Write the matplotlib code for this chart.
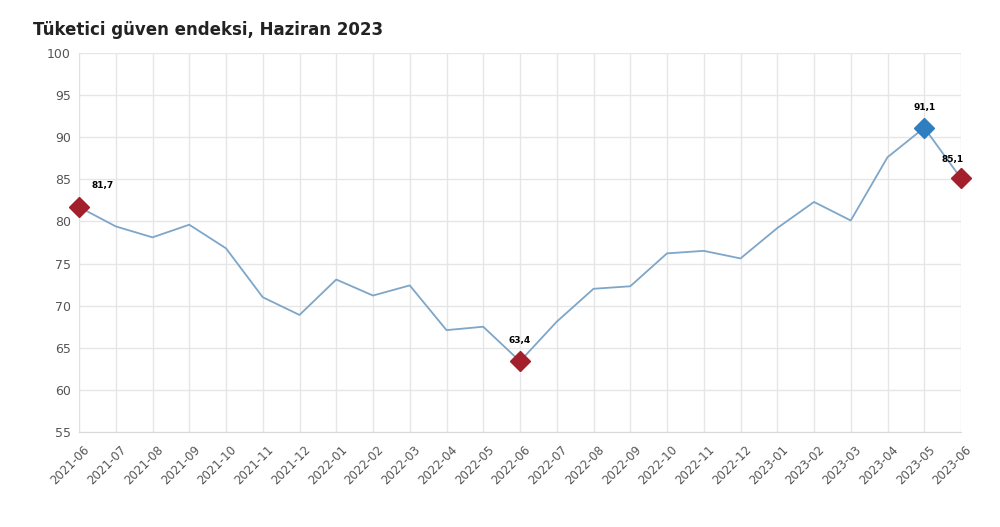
import matplotlib
matplotlib.use("Agg")
import matplotlib.pyplot as plt
from matplotlib.transforms import ScaledTranslation

# Tüketici güven endeksi, aylık
aylar = ["2021-06", "2021-07", "2021-08", "2021-09", "2021-10", "2021-11", "2021-12",
         "2022-01", "2022-02", "2022-03", "2022-04", "2022-05", "2022-06", "2022-07",
         "2022-08", "2022-09", "2022-10", "2022-11", "2022-12", "2023-01", "2023-02",
         "2023-03", "2023-04", "2023-05", "2023-06"]
endeks = [81.7, 79.4, 78.1, 79.6, 76.8, 71.0, 68.9, 73.1, 71.2, 72.4, 67.1, 67.5,
          63.4, 68.1, 72.0, 72.3, 76.2, 76.5, 75.6, 79.2, 82.3, 80.1, 87.6, 91.1, 85.1]

# işaretli noktalar: (indeks, etiket, renk)
kirmizi = "#a31f2c"
mavi = "#2f7fc0"
isaretler = [(0, "81,7", kirmizi), (12, "63,4", kirmizi), (23, "91,1", mavi), (24, "85,1", kirmizi)]

fig = plt.figure(figsize=(10, 5.27), dpi=100)
ax = fig.add_axes([0.079, 0.180, 0.882, 0.720])

x = list(range(len(aylar)))
ax.plot(x, endeks, color="#7ea6c8", linewidth=1.3, zorder=2)

for i, etiket, renk in isaretler:
    ax.plot(x[i], endeks[i], marker="D", markersize=10, color=renk,
            markeredgecolor=renk, zorder=3, clip_on=False)
    if i == 0:
        ax.annotate(etiket, (x[i], endeks[i]), xytext=(9, 14), textcoords="offset points",
                    fontsize=6.5, fontweight="bold", ha="left")
    elif i == 24:
        ax.annotate(etiket, (x[i], endeks[i]), xytext=(-6, 12), textcoords="offset points",
                    fontsize=6.5, fontweight="bold", ha="center")
    else:
        ax.annotate(etiket, (x[i], endeks[i]), xytext=(0, 13), textcoords="offset points",
                    fontsize=6.5, fontweight="bold", ha="center")

ax.set_xlim(0, len(aylar) - 1)
ax.set_ylim(55, 100)
ax.set_yticks(range(55, 101, 5))
ax.set_xticks(x)
ax.set_xticklabels(aylar, rotation=45, ha="right", rotation_mode="anchor")
ax.tick_params(axis="both", length=0, labelsize=9, labelcolor="#555555", pad=6)
ax.tick_params(axis="x", labelsize=8.5, pad=8)
# etiketleri biraz sağa kaydır
kaydir = ScaledTranslation(3 / 72, 0, fig.dpi_scale_trans)
for lbl in ax.get_xticklabels():
    lbl.set_transform(lbl.get_transform() + kaydir)
ax.grid(True, color="#e6e6e6", linewidth=1)
ax.set_axisbelow(True)
for s in ["top", "right"]:
    ax.spines[s].set_visible(False)
ax.spines["left"].set_color("#e0e0e0")
ax.spines["bottom"].set_color("#d8d8d8")

fig.text(0.033, 0.943, "Tüketici güven endeksi, Haziran 2023", fontsize=12,
         fontweight="bold", color="#222222", ha="left", va="center")

fig.savefig("out.png", dpi=100)
